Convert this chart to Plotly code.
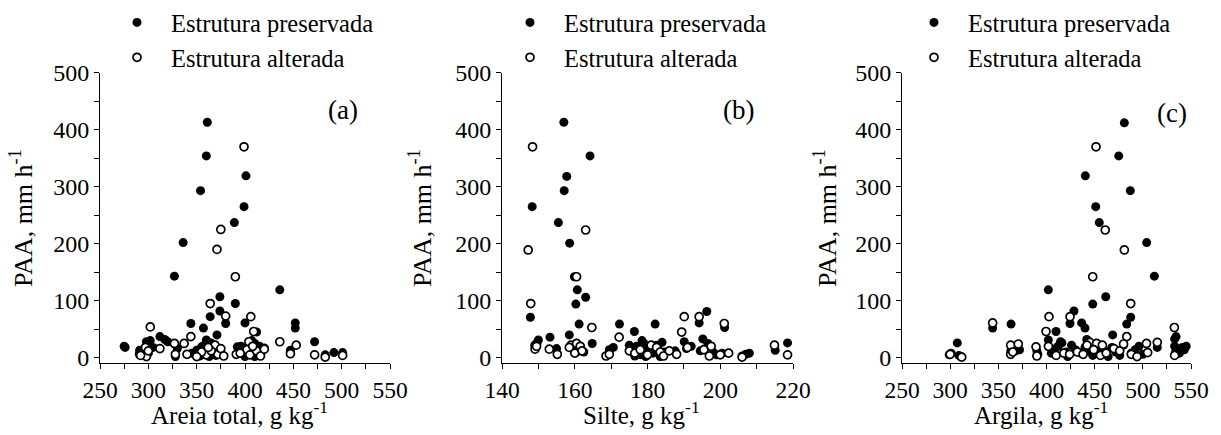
import plotly.graph_objects as go

# ---------------- data ----------------
# Panel (a): Areia total
a_pres_x = [361,360,401,354,399,389,336,327,436,374,390,374,364,380,344,400,452,452,357,412,371,312,317,302,298,360,472,275,276,396,407,410,447,483,492,501,291,295,300,328,330,350,355,358,362,365,366,368,370,372,357,353,400,404,408,412,415,418,420,410,405,363,375,320,392,345,305]
a_pres_y = [413,354,319,293,265,237,202,143,119,107,95,82,72,60,60,61,61,52,52,45,40,37,32,30,28,31,28,20,18,20,30,25,13,5,9,9,13,11,8,2,16,13,19,22,15,26,8,18,4,12,6,3,2,10,15,6,20,12,17,2,22,2,10,28,19,8,18]
a_alt_x = [399,375,371,390,364,380,406,302,409,344,436,404,327,337,453,312,297,291,298,328,340,369,372,391,402,447,472,483,501,292,360,365,375,378,355,405,412,416,420,408,300,350,395,362]
a_alt_y = [370,225,190,142,95,73,72,54,46,37,28,28,25,25,22,16,18,6,2,6,6,22,6,6,14,7,5,1,4,4,5,12,16,3,10,5,12,3,15,20,12,2,8,18]

# Panel (b): Silte
b_pres_x = [157,164.2,157.8,157.1,148.3,155.5,158.6,159.9,160.7,163,160.3,147.8,196.3,194.2,201.2,161.2,172.3,182.1,176.4,158.5,153.2,150,149.6,149,164.8,155,160.5,161.5,162.5,169.5,170.6,175.5,176,177,178,179,180,181,181.5,182.5,183,184,184.8,187.6,190.1,190.7,192,195.2,196.6,194.5,198,199,200.5,206,207,208,215.1,218.5,176.5,175,179.5,183.5,178.5]
b_pres_y = [413,354,318,293,265,237,201,142,119,106,94,71,81,61,53,59,59,59,46,40,36,31,26,22,25,16,10,18,10,14,18,15,10,20,5,25,12,18,8,22,14,27,10,12,28,16,20,33,25,12,10,5,8,3,6,8,13,26,3,22,2,2,30]
b_alt_x = [148.4,163,147.2,160.5,147.9,190.1,194.2,201.1,164.7,189.4,172.2,149.1,153,155.2,159,160.5,161.5,158.5,160,162,168.6,169.5,175,176.5,178,180,181,182.5,183.5,184.4,188,191,195.5,197.5,197,200,202.3,206,214.9,218.5,149.5,186]
b_alt_y = [370,224,189,142,95,72,72,60,53,45,36,15,15,6,22,25,20,18,8,12,3,6,12,8,14,5,22,18,10,3,6,18,14,20,3,5,8,1,22,5,20,12]

# Panel (c): Argila
c_pres_x = [480.8,475,440.3,487,451.1,454.8,504,512,401.9,461.5,448,428.5,487.4,344.1,363.2,424.4,436.5,440,483.3,409.9,468.7,534.5,401.9,441.8,414.6,299,301,307.4,311,309,363,368,372,390,391,405,408,412,416,420,422,426,430,436,440,444,448,452,456,460,464,468,472,476,480,488,492,496,500,515,533,533,534,541,543,545,538]
c_pres_y = [412,354,319,293,265,237,202,143,119,107,94,82,71,52,59,60,61,52,59,46,40,37,31,32,28,5,8,26,2,4,12,12,14,12,6,8,15,20,26,10,2,22,14,8,18,12,4,20,8,14,2,18,10,4,22,8,14,20,6,18,33,20,10,18,14,20,8]
c_alt_x = [451.4,461,480.8,448,487.4,402.6,424.4,344.1,532.7,399.5,483.3,445,452,458,362.8,370.7,362.8,300,389.1,390,402,410,418,424,432,438,442,449,456,462,470,476,480,488,494,503.8,505,515,533,365,312]
c_alt_y = [370,224,189,142,95,72,72,61,53,46,37,27,25,22,22,24,6,6,19,3,20,4,8,6,10,6,22,14,4,8,16,12,24,6,2,25,9,27,4,10,1]

x_titles = ["Areia total, g kg<sup>-1</sup>", "Silte, g kg<sup>-1</sup>", "Argila, g kg<sup>-1</sup>"]
y_title = "PAA, mm h<sup>-1</sup>"
panel_labels = ["(a)", "(b)", "(c)"]
series_names = ["Estrutura preservada", "Estrutura alterada"]

x_ranges = [[250, 550], [140, 220], [250, 550]]
x_label_ticks = [list(range(250, 551, 50)), list(range(140, 221, 20)), list(range(250, 551, 50))]
x_minor = [25, 10, 25]
y_ticks = [0, 100, 200, 300, 400, 500]

W, H = 1221, 435
FONT = "Liberation Serif"

# pixel layout
x_dom_px = [(100, 390), (502, 793), (902, 1191)]
y_top_px, y_bot_px = 72.7, 363.4
xtitle_px = [239, 641, 1041]
ytitle_px = [22, 421, 826]
label_pos_px = [(343, 110), (738, 110), (1172, 113)]
legend_x_px = [103, 496, 900]

panels = [
    (a_pres_x, a_pres_y, a_alt_x, a_alt_y),
    (b_pres_x, b_pres_y, b_alt_x, b_alt_y),
    (c_pres_x, c_pres_y, c_alt_x, c_alt_y),
]

fig = go.Figure()
layout = dict(
    width=W, height=H, autosize=False,
    margin=dict(l=0, r=0, t=0, b=0, pad=0),
    paper_bgcolor="white", plot_bgcolor="white",
    font=dict(family=FONT, color="black", size=24),
    annotations=[],
)

for i, (px_, py_, ax_, ay_) in enumerate(panels):
    sfx = "" if i == 0 else str(i + 1)
    leg = "legend" if i == 0 else f"legend{i+1}"
    fig.add_trace(go.Scatter(
        x=px_, y=py_, mode="markers", name=series_names[0],
        xaxis="x" + sfx, yaxis="y" + sfx, legend=leg,
        marker=dict(size=9, color="black", line=dict(width=0)),
    ))
    fig.add_trace(go.Scatter(
        x=ax_, y=ay_, mode="markers", name=series_names[1],
        xaxis="x" + sfx, yaxis="y" + sfx, legend=leg,
        marker=dict(size=8, color="white", line=dict(width=1.7, color="black")),
    ))
    x0, x1 = x_dom_px[i]
    layout["xaxis" + sfx] = dict(
        domain=[x0 / W, x1 / W], anchor="y" + sfx, automargin=False,
        range=x_ranges[i], tickvals=x_label_ticks[i],
        ticks="outside", ticklen=5, tickwidth=1, tickcolor="black",
        minor=dict(ticks="outside", dtick=x_minor[i], tick0=x_ranges[i][0], ticklen=5, tickwidth=1, tickcolor="black"),
        showline=True, linecolor="black", linewidth=1,
        showgrid=False, zeroline=False,
        tickfont=dict(family=FONT, size=23.5, color="black"),
    )
    layout["yaxis" + sfx] = dict(
        domain=[1 - y_bot_px / H, 1 - y_top_px / H], anchor="x" + sfx, automargin=False,
        range=[-10, 500], tickvals=y_ticks,
        ticks="outside", ticklen=5, tickwidth=1, tickcolor="black",
        minor=dict(ticks="outside", dtick=50, tick0=0, ticklen=5, tickwidth=1, tickcolor="black"),
        showline=True, linecolor="black", linewidth=1,
        showgrid=False, zeroline=False,
        tickfont=dict(family=FONT, size=24, color="black"),
    )
    layout[leg] = dict(
        x=legend_x_px[i] / W, y=1.0, xanchor="left", yanchor="top",
        bgcolor="rgba(0,0,0,0)", borderwidth=0,
        font=dict(family=FONT, size=24.5, color="black"),
        itemwidth=58, tracegroupgap=0,
    )
    layout["annotations"].append(dict(
        text=x_titles[i], xref="paper", yref="paper",
        x=xtitle_px[i] / W, y=1 - 413 / H, xanchor="center", yanchor="middle",
        showarrow=False, font=dict(family=FONT, size=25, color="black"),
    ))
    layout["annotations"].append(dict(
        text=y_title, xref="paper", yref="paper", textangle=-90,
        x=ytitle_px[i] / W, y=1 - 218 / H, xanchor="center", yanchor="middle",
        showarrow=False, font=dict(family=FONT, size=26, color="black"),
    ))
    lx, ly = label_pos_px[i]
    layout["annotations"].append(dict(
        text=panel_labels[i], xref="paper", yref="paper",
        x=lx / W, y=1 - ly / H, xanchor="center", yanchor="middle",
        showarrow=False, font=dict(family=FONT, size=27, color="black"),
    ))

fig.update_layout(**layout)
fig.write_html("out.html")
